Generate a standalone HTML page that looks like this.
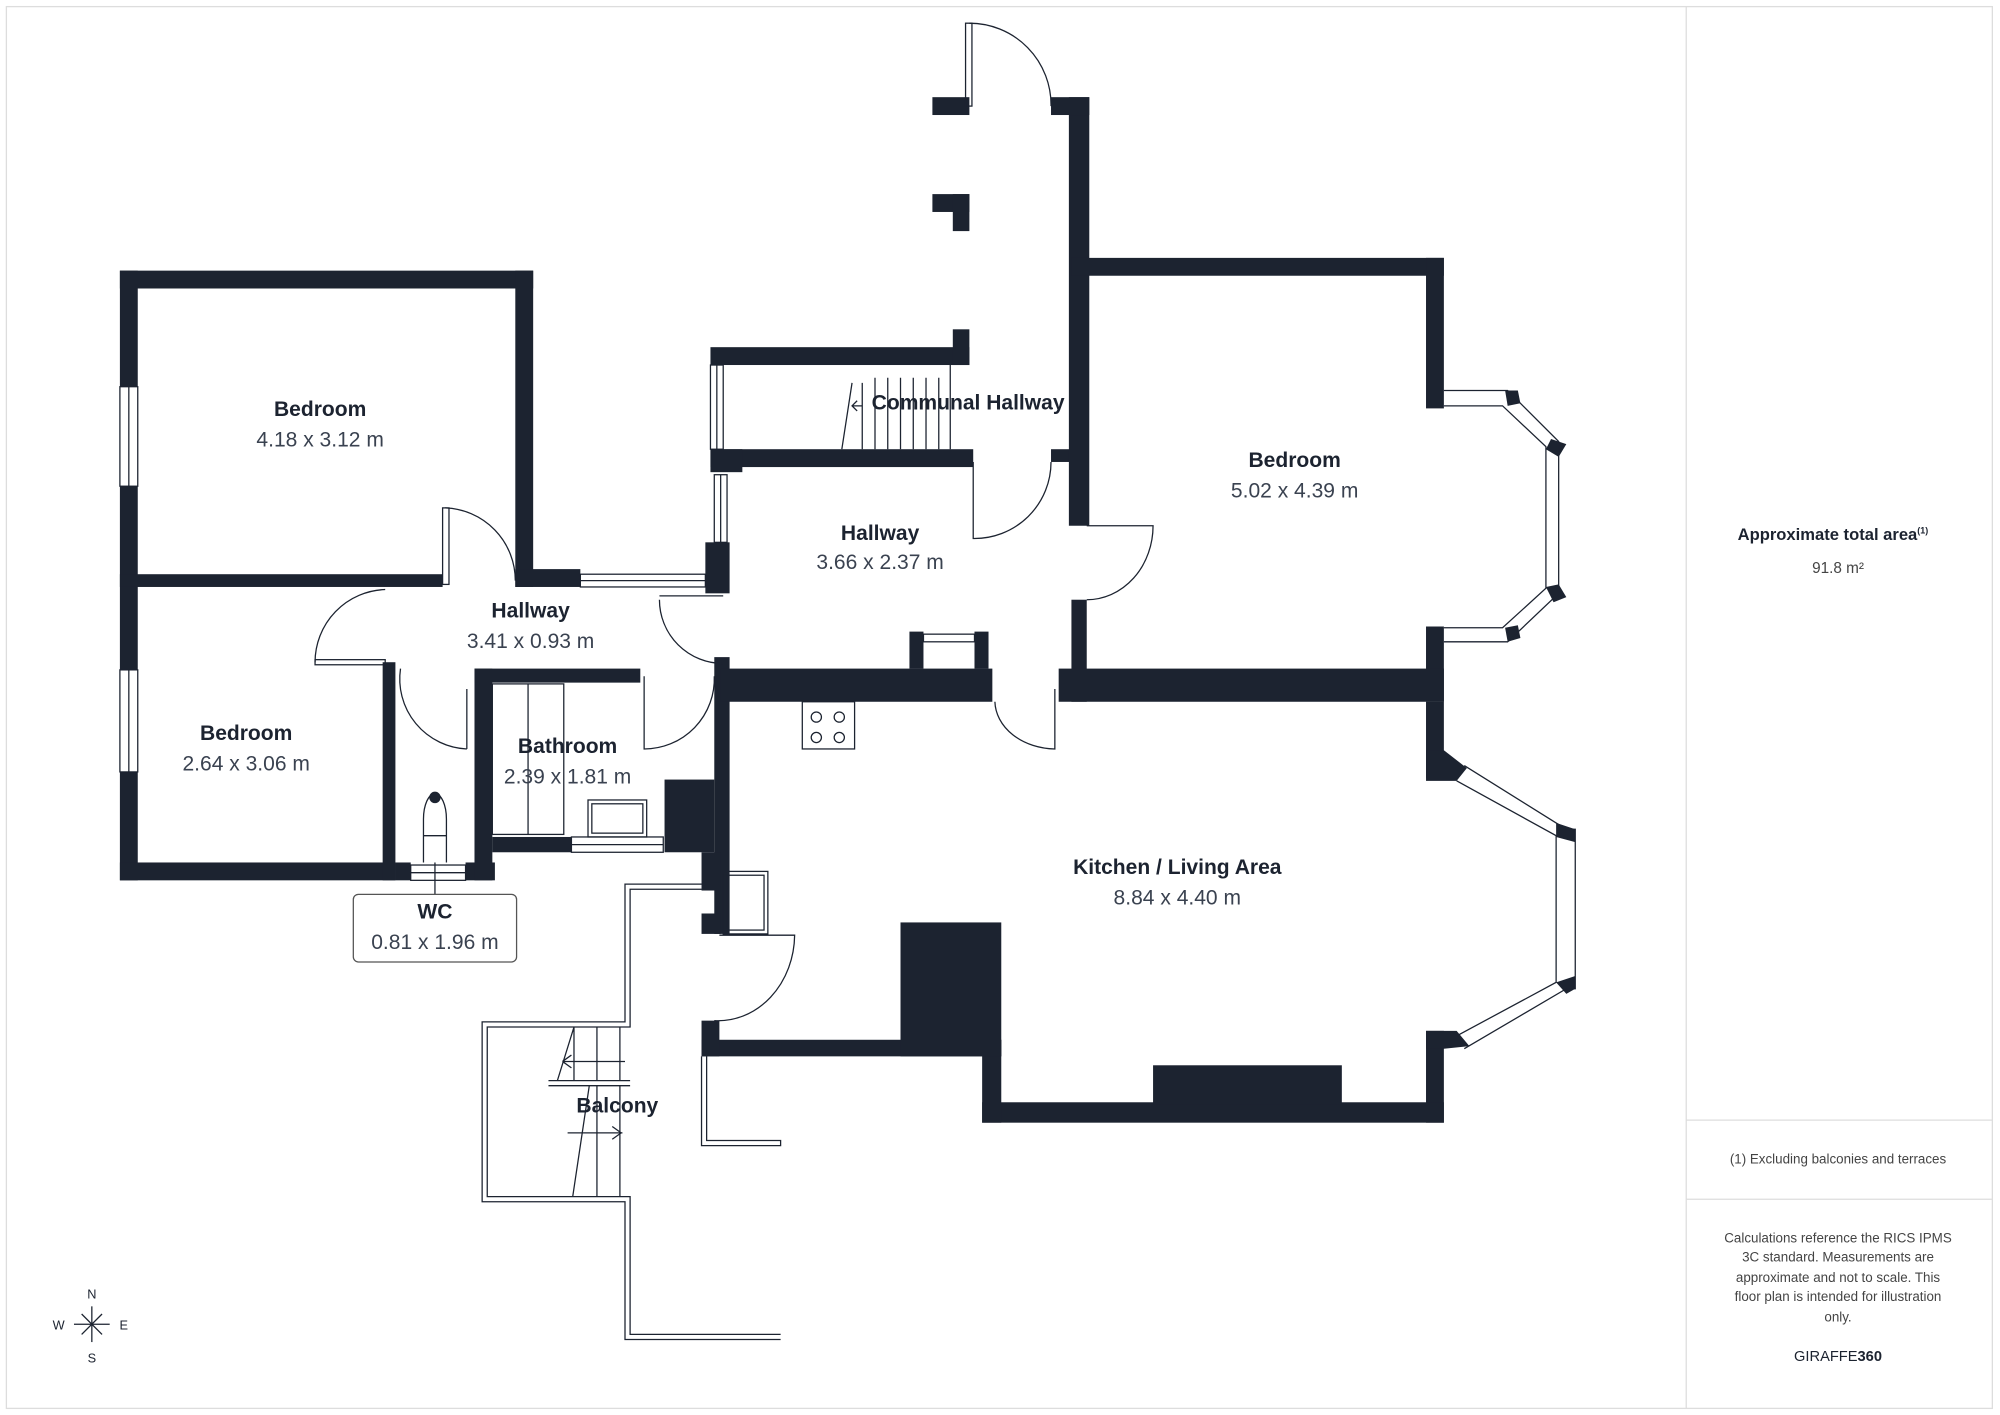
<!DOCTYPE html>
<html><head><meta charset="utf-8"><style>
html,body{margin:0;padding:0;background:#fff;}
svg{display:block;}
text{font-family:"Liberation Sans",sans-serif;}
.n{font-weight:bold;font-size:16.5px;fill:#1c2330;text-anchor:middle;}
.d{font-size:16.5px;fill:#3a4250;text-anchor:middle;}
.p{font-size:10.5px;fill:#444;text-anchor:middle;}
</style></head><body>
<svg width="2000" height="1415" viewBox="0 0 1568 1109" xmlns="http://www.w3.org/2000/svg">
<rect x="5" y="5" width="1557" height="1099" fill="#fff" stroke="#ddd" stroke-width="1"/>
<line x1="1322" y1="5" x2="1322" y2="1104" stroke="#ddd"/>
<line x1="1322" y1="878" x2="1562" y2="878" stroke="#ddd"/>
<line x1="1322" y1="940" x2="1562" y2="940" stroke="#ddd"/>

<g fill="#1c2330">
<rect x="94" y="212" width="324" height="14"/>
<rect x="404" y="212" width="14" height="248"/>
<rect x="94" y="212" width="14" height="478"/>
<rect x="94" y="450" width="253" height="10"/>
<rect x="404" y="446" width="51" height="14"/>
<rect x="553" y="425" width="19" height="40"/>
<rect x="94" y="676" width="216" height="14"/>
<rect x="300" y="519" width="10" height="171"/>
<rect x="310" y="676" width="12" height="14"/>
<rect x="365" y="676" width="23" height="14"/>
<rect x="372" y="524" width="14" height="166"/>
<rect x="372" y="524" width="130" height="11"/>
<rect x="386" y="656" width="62" height="12"/>
<rect x="521" y="611" width="39" height="57"/>
<rect x="560" y="515" width="12" height="217"/>
<rect x="550" y="668" width="15" height="30"/>
<rect x="550" y="716" width="15" height="16"/>
<rect x="557" y="272" width="203" height="14"/>
<rect x="747" y="258" width="13" height="28"/>
<rect x="557" y="352" width="206" height="14"/>
<rect x="557" y="352" width="25" height="18"/>
<rect x="824" y="352" width="16" height="10"/>
<rect x="838" y="76" width="16" height="336"/>
<rect x="824" y="76" width="30" height="14"/>
<rect x="731" y="76" width="29" height="14"/>
<rect x="731" y="152" width="29" height="14"/>
<rect x="747" y="152" width="13" height="29"/>
<rect x="840" y="202" width="292" height="14"/>
<rect x="1118" y="202" width="14" height="118"/>
<rect x="1118" y="491" width="14" height="59"/>
<rect x="840" y="470" width="12" height="80"/>
<rect x="565" y="524" width="213" height="26"/>
<rect x="830" y="524" width="302" height="26"/>
<rect x="713" y="495" width="11" height="29"/>
<rect x="764" y="495" width="11" height="29"/>
<rect x="1118" y="550" width="14" height="60"/>
<polygon points="1118,588 1132,588 1150,602 1142,612 1118,612"/>
<rect x="1118" y="808" width="14" height="72"/>
<polygon points="1118,808 1142,808 1152,820 1132,822 1118,822"/>
<rect x="770" y="864" width="362" height="16"/>
<rect x="550" y="815" width="235" height="13"/>
<rect x="550" y="800" width="14" height="28"/>
<rect x="770" y="815" width="15" height="65"/>
<rect x="706" y="723" width="79" height="105"/>
<rect x="904" y="835" width="148" height="31"/>
<polygon points="1180,306 1190,306 1192,316 1182,318"/>
<polygon points="1216,344 1228,348 1222,358 1212,352"/>
<polygon points="1212,460 1222,458 1228,468 1218,472"/>
<polygon points="1180,492 1190,490 1192,500 1182,503"/>
<polygon points="1220,645 1235,650 1235,660 1220,656"/>
<polygon points="1220,770 1235,765 1235,775 1228,779"/>
</g>

<g fill="none" stroke="#1c2330" stroke-width="1">
<rect x="94" y="303" width="14" height="78" fill="#fff"/><line x1="101" y1="303" x2="101" y2="381"/>
<rect x="94" y="525" width="14" height="80" fill="#fff"/><line x1="101" y1="525" x2="101" y2="605"/>
<rect x="455" y="450" width="98" height="10" fill="#fff"/><line x1="455" y1="455" x2="553" y2="455"/>
<rect x="557" y="286" width="10" height="66"/><line x1="562" y1="286" x2="562" y2="352"/>
<rect x="560" y="372" width="10" height="53"/><line x1="565" y1="372" x2="565" y2="425"/>
<rect x="322" y="678" width="43" height="12"/><line x1="322" y1="684" x2="365" y2="684"/>
<rect x="448" y="656" width="72" height="12"/><line x1="448" y1="662" x2="520" y2="662"/>
<rect x="724" y="497" width="40" height="6"/>
<polyline points="1132,306 1182,306 1222,346 1222,465 1182,503 1132,503"/>
<polyline points="1132,318 1178,318 1212,350 1212,461 1178,492 1132,492"/>
<polyline points="1148,600 1228,650 1235,650 1235,775 1228,775 1148,822"/>
<polyline points="1142,612 1220,655 1220,770 1142,812"/>
<rect x="757" y="18" width="5" height="65"/><path d="M760,18 A64,64 0 0 1 824,83"/>
<rect x="347" y="398" width="5" height="60"/><path d="M349,398 A57,57 0 0 1 404,455"/>
<rect x="247" y="517" width="55" height="4"/><path d="M247,519 A57,57 0 0 1 302,462"/>
<path d="M314,524 A55,55 0 0 0 366,587"/><line x1="366" y1="540" x2="366" y2="587"/>
<path d="M505,530 L505,587 A55,55 0 0 0 560,530"/>
<path d="M517,470 A50,50 0 0 0 567,520"/><line x1="517" y1="467" x2="567" y2="467"/>
<path d="M763,362 L763,422 A60,60 0 0 0 824,362"/>
<path d="M852,412 L904,412 A52,58 0 0 1 852,470"/>
<path d="M780,550 A48,38 0 0 0 827,587 L827,540"/>
<path d="M564,733 L623,733 A60,68 0 0 1 560,800"/>
<line x1="668" y1="300" x2="660" y2="352"/>
<path d="M676,300 V352 M686,296 V352 M696,296 V352 M706,296 V352 M716,296 V352 M726,296 V352 M736,296 V352 M745,286 V352"/>
<path d="M676,318 L668,318 M672,314 L668,318 L672,322"/>
<rect x="386" y="536" width="56" height="118"/><line x1="414" y1="536" x2="414" y2="654"/>
<rect x="461" y="627" width="46" height="29"/><rect x="464" y="630" width="40" height="23"/>
<rect x="629" y="550" width="41" height="37"/>
<circle cx="640" cy="562" r="4"/><circle cx="658" cy="562" r="4"/><circle cx="640" cy="578" r="4"/><circle cx="658" cy="578" r="4"/>
<rect x="567" y="683" width="35" height="49"/><rect x="570" y="686" width="29" height="43"/>
<path d="M332,676 V642 A9,20 0 0 1 350,642 V676 M332,655 H350"/>
<line x1="341" y1="676" x2="341" y2="701"/>
<polyline points="550,693 490,693 490,801 378,801 378,942 490,942 490,1050 612,1050"/>
<polyline points="550,697 494,697 494,805 382,805 382,938 494,938 494,1046 612,1046"/>
<path d="M450,805 L437,847 M450,805 V847 M468,805 V847 M486,805 V847 M430,847 H494 M430,851 H494 M462,851 L449,938 M468,851 V938 M486,851 V938 M445,888 L488,888"/>
<path d="M487,888 l-7,-5 M487,888 l-7,5 M441,832 l7,-5 M441,832 l7,5 M441,832 H490"/>
<polyline points="550,828 550,898 612,898 612,894 554,894 554,828"/>
<rect x="277" y="701" width="128" height="53" rx="4" fill="#fff" stroke="#555"/>
<circle cx="341" cy="625" r="4" fill="#1c2330"/>
</g>

<text class="n" x="251" y="326">Bedroom</text><text class="d" x="251" y="350">4.18 x 3.12 m</text>
<text class="n" x="193" y="580">Bedroom</text><text class="d" x="193" y="604">2.64 x 3.06 m</text>
<text class="n" x="416" y="484">Hallway</text><text class="d" x="416" y="508">3.41 x 0.93 m</text>
<text class="n" x="759" y="321">Communal Hallway</text>
<text class="n" x="690" y="423">Hallway</text><text class="d" x="690" y="446">3.66 x 2.37 m</text>
<text class="n" x="1015" y="366">Bedroom</text><text class="d" x="1015" y="390">5.02 x 4.39 m</text>
<text class="n" x="445" y="590">Bathroom</text><text class="d" x="445" y="614">2.39 x 1.81 m</text>
<text class="n" x="341" y="720">WC</text><text class="d" x="341" y="744">0.81 x 1.96 m</text>
<text class="n" x="923" y="685">Kitchen / Living Area</text><text class="d" x="923" y="709">8.84 x 4.40 m</text>
<text class="n" x="484" y="872">Balcony</text>

<text x="1437" y="423" style="font-size:13px;font-weight:bold;fill:#1c2330" text-anchor="middle">Approximate total area<tspan font-size="7" dy="-5">(1)</tspan></text>
<text x="1441" y="449" style="font-size:12px;fill:#444" text-anchor="middle">91.8 m²</text>
<text class="p" x="1441" y="912">(1) Excluding balconies and terraces</text>
<text class="p" x="1441" y="974">Calculations reference the RICS IPMS</text>
<text class="p" x="1441" y="989">3C standard. Measurements are</text>
<text class="p" x="1441" y="1005">approximate and not to scale. This</text>
<text class="p" x="1441" y="1020">floor plan is intended for illustration</text>
<text class="p" x="1441" y="1036">only.</text>
<text x="1441" y="1067" style="font-size:11.5px;fill:#1c2330" text-anchor="middle">GIRAFFE<tspan font-weight="bold">360</tspan></text>

<g stroke="#1c2330" stroke-width="1" fill="#1c2330">
<line x1="72" y1="1024" x2="72" y2="1052"/><line x1="58" y1="1038" x2="86" y2="1038"/>
<line x1="64" y1="1030" x2="80" y2="1046"/><line x1="80" y1="1030" x2="64" y2="1046"/>
</g>
<text x="72" y="1018" style="font-size:10px;fill:#1c2330" text-anchor="middle">N</text>
<text x="72" y="1068" style="font-size:10px;fill:#1c2330" text-anchor="middle">S</text>
<text x="46" y="1042" style="font-size:10px;fill:#1c2330" text-anchor="middle">W</text>
<text x="97" y="1042" style="font-size:10px;fill:#1c2330" text-anchor="middle">E</text>
</svg>
</body></html>
